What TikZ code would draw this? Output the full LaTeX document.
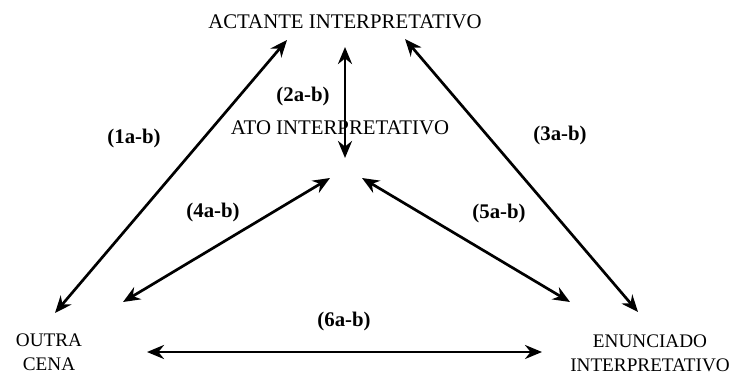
\documentclass[tikz,border=0pt]{standalone}
\usepackage{fontspec}
\setmainfont{Liberation Serif}
\usetikzlibrary{arrows.meta,positioning}

\begin{document}
\begin{tikzpicture}[x=0.5pt,y=-0.5pt,
        term/.style={font=\fontsize{10.4}{12}\selectfont, align=center, inner sep=0pt},
        lowterm/.style={term, font=\fontsize{9.6}{12}\selectfont},
        rel/.style={font=\fontsize{10.4}{12}\selectfont\bfseries, inner sep=0pt},
        link/.style={<->, line width=1.35pt},
        >={Stealth[length=8.5pt,width=7pt]}
      ]
        \useasboundingbox (0,0) rectangle (732,374);

        % the four terms
        \node[term] (actante) at (345,22) {ACTANTE INTERPRETATIVO};
        \node[term] (ato) at (340,128) {ATO INTERPRETATIVO};
        \node[lowterm] (outra) at (49,352) {OUTRA\\CENA};
        \node[lowterm] (enunciado) at (650,353) {ENUNCIADO\\INTERPRETATIVO};

        % arrow ends
        \coordinate (act1) at (287,40);
        \coordinate (act2) at (345,47);
        \coordinate (act3) at (405,39);
        \coordinate (ato2) at (345,158);
        \coordinate (ato4) at (330,178);
        \coordinate (ato5) at (362,178);
        \coordinate (out1) at (55,313);
        \coordinate (out4) at (123,302);
        \coordinate (out6) at (147,352);
        \coordinate (enu3) at (638,312);
        \coordinate (enu5) at (570,302);
        \coordinate (enu6) at (542,352);

        \draw[link] (out1) -- (act1);
        \draw[link] (act2) -- (ato2);
        \draw[link] (act3) -- (enu3);
        \draw[link] (out4) -- (ato4);
        \draw[link] (ato5) -- (enu5);
        \draw[link] (out6) -- (enu6);

        % relation labels
        \node[rel] (r1) at (134,138) {(1a-b)};
        \node[rel] (r2) at (303,96) {(2a-b)};
        \node[rel] (r3) at (560,135) {(3a-b)};
        \node[rel] (r4) at (213,212) {(4a-b)};
        \node[rel] (r5) at (499,213) {(5a-b)};
        \node[rel] (r6) at (344,321) {(6a-b)};
      \end{tikzpicture}
\end{document}
